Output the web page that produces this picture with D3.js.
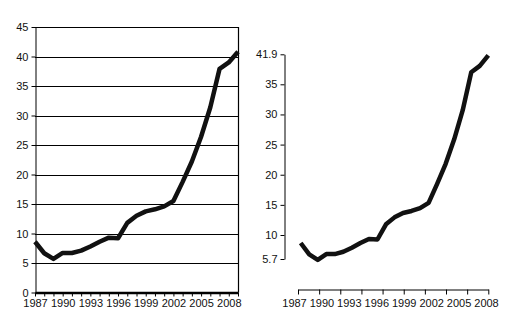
<!DOCTYPE html>
<html><head><meta charset="utf-8">
<script src="https://cdn.jsdelivr.net/npm/d3@7"></script>
<style>
html,body{margin:0;padding:0;background:#fff;}
svg{display:block;}
text{font-family:"Liberation Sans",Arial,sans-serif;font-size:11px;fill:#111;}
</style></head>
<body>
<svg id="c" width="514" height="330"></svg>
<script>
// ---- data ----
const years = [1987,1988,1989,1990,1991,1992,1993,1994,1995,1996,1997,1998,1999,2000,2001,2002,2003,2004,2005,2006,2007,2008,2009];
const values = [8.6,6.65,5.7,6.7,6.7,7.1,7.8,8.6,9.3,9.2,11.8,13.0,13.75,14.1,14.6,15.5,18.75,22.2,26.4,31.4,37.9,39.0,40.8];
const xLabelYears = [1987,1990,1993,1996,1999,2002,2005,2008];
const yTicksLeft = [0,5,10,15,20,25,30,35,40,45];
const yTicksRightPos = [5.7,10,15,20,25,30,35,41.9];
const yTickLabelsRight = ["5.7","10","15","20","25","30","35","41.9"];
const rightXTickIdx = [0,1,2,3,4,5,6,7,8,9];

const svg = d3.select("#c");
const data = years.map((y,i)=>({year:y, v:values[i]}));

// ================= LEFT CHART =================
const xL = d3.scaleLinear().domain([1987,2009]).range([35,238]);
const yL = d3.scaleLinear().domain([0,45]).range([292.5,27]);
const gL = svg.append("g");

// gridlines
gL.selectAll("line.grid").data(yTicksLeft.filter(d=>d>0)).join("line")
  .attr("x1",xL(1987)).attr("x2",xL(2009))
  .attr("y1",d=>Math.round(yL(d))+0.5).attr("y2",d=>Math.round(yL(d))+0.5)
  .attr("stroke","#000").attr("stroke-width",1);
// right border
gL.append("line").attr("x1",238.5).attr("x2",238.5).attr("y1",Math.round(yL(45))).attr("y2",yL(0))
  .attr("stroke","#000").attr("stroke-width",1.2);

// y axis
const yAxL = gL.append("g").attr("transform","translate(35.5,0)")
  .call(d3.axisLeft(yL).tickValues(yTicksLeft).tickSize(4).tickSizeOuter(0).tickPadding(3));
// x axis
const xAxL = gL.append("g").attr("transform",`translate(0,${yL(0)})`)
  .call(d3.axisBottom(xL).tickValues(years).tickSize(4).tickSizeOuter(0).tickPadding(3)
    .tickFormat(d=>xLabelYears.includes(d)?String(d):""));
xAxL.select(".domain").attr("stroke-width",2.5);
[yAxL,xAxL].forEach(a=>{
  a.attr("font-family",null).attr("font-size",null);
  a.selectAll("line").attr("stroke","#000");
  a.select(".domain").attr("stroke","#000");
  a.selectAll("text").attr("fill","#111");
});

// line
const lineL = d3.line().x(d=>xL(d.year)).y(d=>yL(d.v));
gL.append("path").datum(data).attr("d",lineL)
  .attr("fill","none").attr("stroke","#111").attr("stroke-width",4.5)
  .attr("stroke-linejoin","round");

// ================= RIGHT CHART =================
const yAxisR = d3.scaleLinear().domain([5.7,10,35,41.9]).range([259,235,84.3,54.3]);
const yR = d3.scaleLinear().domain([5.7,41.9]).range([259.9,49]);
const xR = d3.scaleLinear().domain([1987,2009]).range([300.7,488.3]);
const xTickR = d3.scaleLinear().domain([0,9]).range([298,488.3]);
const xLabR = d3.scalePoint().domain(xLabelYears).range([294,486]);
const gR = svg.append("g");

const yAxR = gR.append("g").attr("transform","translate(284.5,0)")
  .call(d3.axisLeft(yAxisR).tickValues(yTicksRightPos).tickSize(4).tickSizeOuter(0).tickPadding(3)
    .tickFormat((d,i)=>yTickLabelsRight[i]));
const xTkR = gR.append("g").attr("transform","translate(0,289.5)")
  .call(d3.axisBottom(xTickR).tickValues(rightXTickIdx).tickSize(5).tickSizeOuter(0).tickFormat(""));
const xLbR = gR.append("g").attr("transform","translate(0,289.5)")
  .call(d3.axisBottom(xLabR).tickSize(0).tickPadding(10));
xLbR.select(".domain").remove();
[yAxR,xTkR,xLbR].forEach(a=>{
  a.attr("font-family",null).attr("font-size",null);
  a.selectAll("line").attr("stroke","#000");
  a.select(".domain").attr("stroke","#000");
  a.selectAll("text").attr("fill","#111");
});

const lineR = d3.line().x(d=>xR(d.year)).y(d=>yR(d.v));
gR.append("path").datum(data).attr("d",lineR)
  .attr("fill","none").attr("stroke","#111").attr("stroke-width",4.5)
  .attr("stroke-linejoin","round");
</script>
</body></html>
